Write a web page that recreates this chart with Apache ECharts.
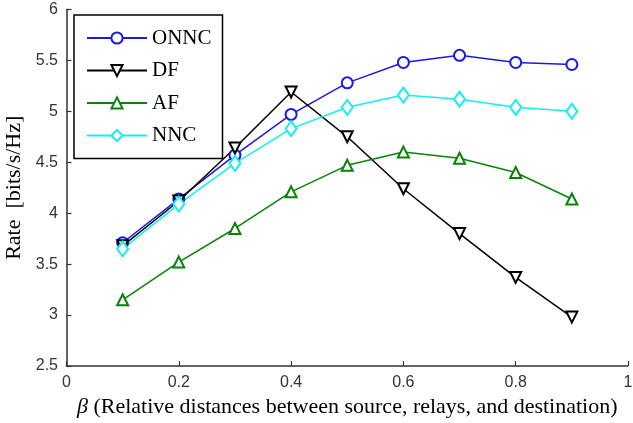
<!DOCTYPE html>
<html>
<head>
<meta charset="utf-8">
<script src="https://cdn.jsdelivr.net/npm/echarts@6/dist/echarts.min.js"></script>
<style>html,body{margin:0;padding:0;background:#fff;}#c{width:633px;height:423px;}</style>
</head>
<body>
<div id="c"></div>
<script>
const betas = [0.1, 0.2, 0.3, 0.4, 0.5, 0.6, 0.7, 0.8, 0.9];
const onnc = [3.71, 4.14, 4.57, 4.97, 5.28, 5.48, 5.55, 5.48, 5.46];
const df   = [3.68, 4.12, 4.64, 5.19, 4.75, 4.24, 3.80, 3.37, 2.98];
const af   = [3.15, 3.52, 3.85, 4.21, 4.47, 4.60, 4.54, 4.40, 4.14];
const nnc  = [3.65, 4.09, 4.49, 4.83, 5.04, 5.16, 5.12, 5.04, 5.00];
const seriesNames = ['ONNC', 'DF', 'AF', 'NNC'];
const xTicks = [0, 0.2, 0.4, 0.6, 0.8, 1];
const yTicks = [2.5, 3, 3.5, 4, 4.5, 5, 5.5, 6];

const pairs = arr => betas.map((b, i) => [b, arr[i]]);
const chart = echarts.init(document.getElementById('c'), null, {renderer: 'canvas'});

function mk(name, data, color, symbol, size, rotate) {
  return {
    name: name, type: 'line', data: pairs(data),
    symbol: symbol, symbolSize: size, symbolRotate: rotate || 0,
    showAllSymbol: true,
    lineStyle: {color: color, width: 1.5},
    itemStyle: {color: color, borderColor: color, borderWidth: 1.5},
    emphasis: {disabled: true}
  };
}

chart.setOption({
  animation: false,
  backgroundColor: '#fff',
  grid: {left: 66.5, right: 5, top: 9.5, bottom: 57, containLabel: false, outerBoundsMode: 'none'},
  legend: {
    orient: 'vertical', left: 74, top: 15,
    data: seriesNames,
    backgroundColor: '#fff', borderColor: '#000', borderWidth: 1.5,
    padding: [12.5, 11, 12.5, 12],
    itemWidth: 60, itemHeight: 14, itemGap: 11.5,
    textStyle: {fontFamily: 'Liberation Serif', fontSize: 21, color: '#000'},
    selectedMode: false
  },
  xAxis: {
    type: 'value', min: 0, max: 1, interval: 0.2,
    name: '{b|β} (Relative distances between source, relays, and destination)',
    nameLocation: 'middle', nameGap: 28,
    nameTextStyle: {fontFamily: 'Liberation Serif', fontSize: 22, color: '#000',
      rich: {b: {fontFamily: 'Liberation Serif', fontStyle: 'italic', fontSize: 22, color: '#000'}}},
    axisLine: {onZero: false, lineStyle: {color: '#333', width: 1.5}},
    axisTick: {inside: true, length: 5, lineStyle: {color: '#333', width: 1.2}},
    axisLabel: {fontFamily: 'Liberation Sans', fontSize: 16, color: '#333', margin: 9,
      formatter: v => xTicks.includes(+v.toFixed(2)) ? String(+v.toFixed(2)) : ''},
    splitLine: {show: false}
  },
  yAxis: {
    type: 'value', min: 2.5, max: 6, interval: 0.5,
    name: 'Rate  [bits/s/Hz]',
    nameLocation: 'middle', nameGap: 34, nameRotate: 90,
    nameTextStyle: {fontFamily: 'Liberation Serif', fontSize: 22, color: '#000'},
    axisLine: {show: true, onZero: false, lineStyle: {color: '#333', width: 1.5}},
    axisTick: {show: true, inside: true, length: 5, lineStyle: {color: '#333', width: 1.2}},
    axisLabel: {fontFamily: 'Liberation Sans', fontSize: 16, color: '#333', margin: 8.5,
      formatter: v => yTicks.includes(+v.toFixed(2)) ? String(+v.toFixed(2)) : ''},
    splitLine: {show: false}
  },
  series: [
    mk('ONNC', onnc, '#1a1ae6', 'emptyCircle', 11),
    mk('DF', df, '#000000', 'emptyTriangle', 11, 180),
    mk('AF', af, '#0a820a', 'emptyTriangle', 11),
    mk('NNC', nnc, '#11f0f0', 'emptyDiamond', [11, 15])
  ]
});
</script>
</body>
</html>
